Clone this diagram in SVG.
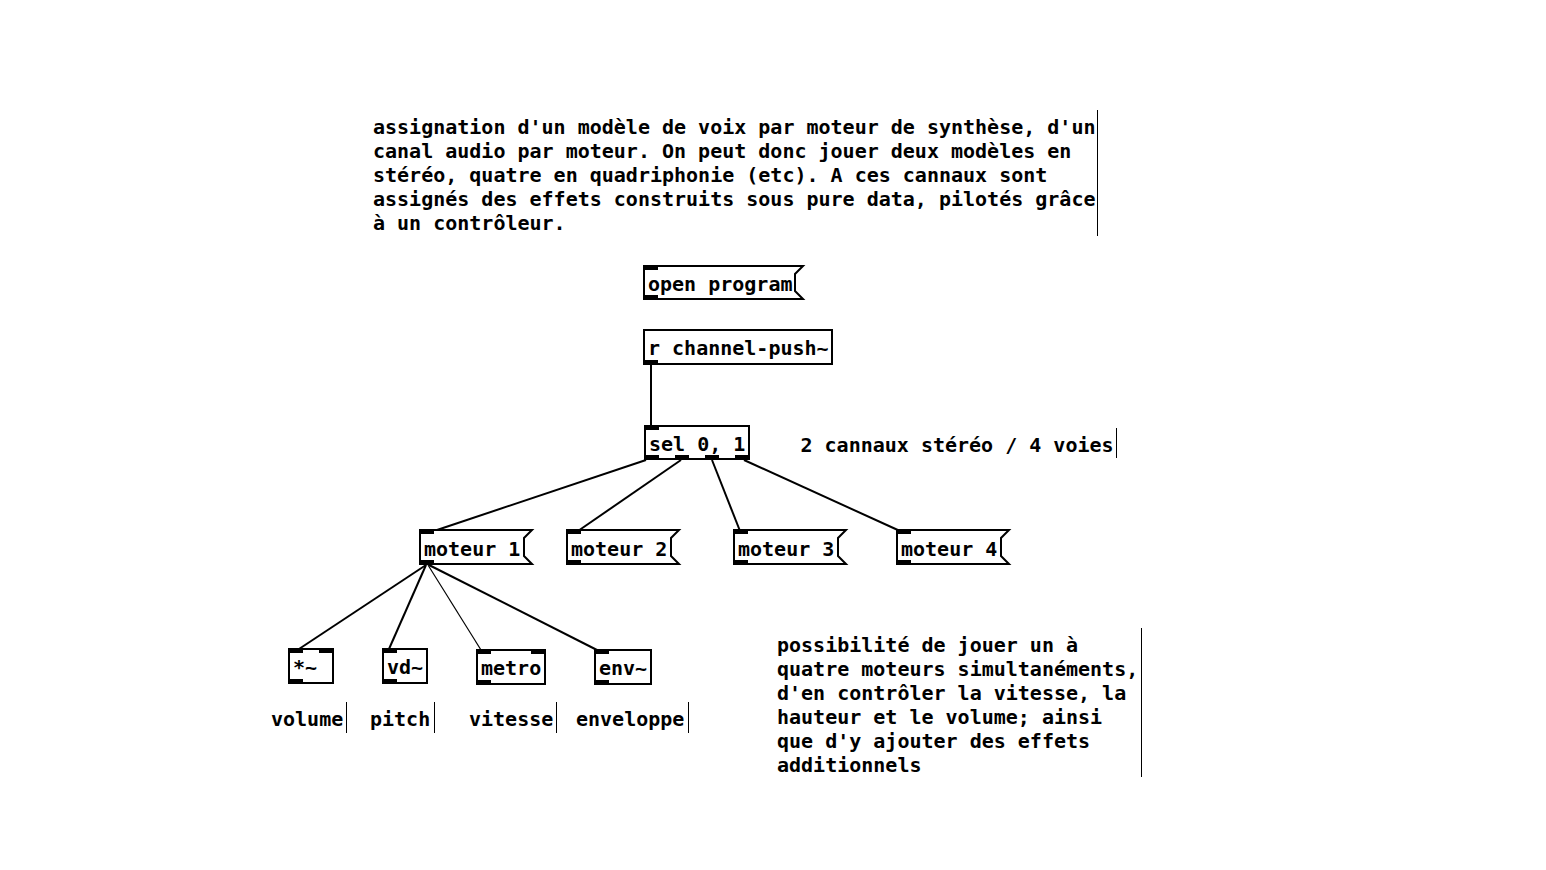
<svg xmlns="http://www.w3.org/2000/svg" width="1546" height="870" viewBox="0 0 1546 870">
<style>
text{font-family:"DejaVu Sans Mono","Liberation Mono",monospace;font-weight:bold;font-size:20px;fill:#000}
.box{fill:#fff;stroke:#000;stroke-width:2}
.io{fill:#000}
.wire{stroke:#000;stroke-width:2;fill:none}
.thin{stroke:#000;stroke-width:1.2;fill:none}
.bar{stroke:#000;stroke-width:1;fill:none}
</style>
<rect width="1546" height="870" fill="#fff"/>
<g id="connectors">
<line class="wire" x1="651" y1="364" x2="651" y2="427"/>
<line class="wire" x1="646" y1="460" x2="434" y2="531"/>
<line class="wire" x1="681" y1="460" x2="578" y2="531"/>
<line class="wire" x1="712" y1="460" x2="740" y2="531"/>
<line class="wire" x1="744" y1="460" x2="900" y2="531"/>
<line class="wire" x1="426" y1="565" x2="299" y2="649"/>
<line class="wire" x1="426" y1="565" x2="389" y2="649"/>
<line class="thin" x1="428" y1="565" x2="481" y2="650"/>
<line class="wire" x1="429" y1="565" x2="597" y2="650"/>
</g>
<g id="comment-top">
<text x="373" y="134">assignation d'un modèle de voix par moteur de synthèse, d'un</text>
<text x="373" y="158">canal audio par moteur. On peut donc jouer deux modèles en</text>
<text x="373" y="182">stéréo, quatre en quadriphonie (etc). A ces cannaux sont</text>
<text x="373" y="206">assignés des effets construits sous pure data, pilotés grâce</text>
<text x="373" y="230">à un contrôleur.</text>
<line class="bar" x1="1097.5" y1="110" x2="1097.5" y2="236"/>
</g>
<g id="msg-open-program">
<path class="box" d="M644,266 H803 L795,274 V291 L803,299 H644 Z"/>
<rect class="io" x="644" y="266" width="14" height="4"/>
<rect class="io" x="644" y="295" width="14" height="4"/>
<text x="648" y="291">open program</text>
</g>
<g id="obj-r-channel-push">
<rect class="box" x="644" y="330" width="188" height="34"/>
<rect class="io" x="644" y="360" width="14" height="4"/>
<text x="648" y="355">r channel-push~</text>
</g>
<g id="obj-sel">
<rect class="box" x="645" y="426" width="104" height="33"/>
<rect class="io" x="645" y="426" width="14" height="4"/>
<rect class="io" x="645" y="455" width="14" height="4"/>
<rect class="io" x="675" y="455" width="14" height="4"/>
<rect class="io" x="705" y="455" width="14" height="4"/>
<rect class="io" x="735" y="455" width="14" height="4"/>
<text x="649" y="451">sel 0, 1</text>
</g>
<g id="comment-stereo">
<text x="800.5" y="452">2 cannaux stéréo / 4 voies</text>
<line class="bar" x1="1116.5" y1="428" x2="1116.5" y2="458"/>
</g>
<g id="msg-moteur-1">
<path class="box" d="M420,530 H532 L524,538 V556 L532,564 H420 Z"/>
<rect class="io" x="420" y="530" width="14" height="4"/>
<rect class="io" x="420" y="560" width="14" height="4"/>
<text x="424" y="556">moteur 1</text>
</g>
<g id="msg-moteur-2">
<path class="box" d="M567,530 H679 L671,538 V556 L679,564 H567 Z"/>
<rect class="io" x="567" y="530" width="14" height="4"/>
<rect class="io" x="567" y="560" width="14" height="4"/>
<text x="571" y="556">moteur 2</text>
</g>
<g id="msg-moteur-3">
<path class="box" d="M734,530 H846 L838,538 V556 L846,564 H734 Z"/>
<rect class="io" x="734" y="530" width="14" height="4"/>
<rect class="io" x="734" y="560" width="14" height="4"/>
<text x="738" y="556">moteur 3</text>
</g>
<g id="msg-moteur-4">
<path class="box" d="M897,530 H1009 L1001,538 V556 L1009,564 H897 Z"/>
<rect class="io" x="897" y="530" width="14" height="4"/>
<rect class="io" x="897" y="560" width="14" height="4"/>
<text x="901" y="556">moteur 4</text>
</g>
<g id="obj-mul">
<rect class="box" x="289" y="649" width="44" height="34"/>
<rect class="io" x="289" y="649" width="14" height="4"/>
<rect class="io" x="319" y="649" width="14" height="4"/>
<rect class="io" x="289" y="679" width="14" height="4"/>
<text x="293" y="674">*~</text>
</g>
<g id="obj-vd">
<rect class="box" x="383" y="649" width="44" height="34"/>
<rect class="io" x="383" y="649" width="14" height="4"/>
<rect class="io" x="383" y="679" width="14" height="4"/>
<text x="387" y="674">vd~</text>
</g>
<g id="obj-metro">
<rect class="box" x="477" y="650" width="68" height="34"/>
<rect class="io" x="477" y="650" width="14" height="4"/>
<rect class="io" x="531" y="650" width="14" height="4"/>
<rect class="io" x="477" y="680" width="14" height="4"/>
<text x="481" y="675">metro</text>
</g>
<g id="obj-env">
<rect class="box" x="595" y="650" width="56" height="34"/>
<rect class="io" x="595" y="650" width="14" height="4"/>
<rect class="io" x="595" y="680" width="14" height="4"/>
<text x="599" y="675">env~</text>
</g>
<g id="labels">
<text x="271" y="726">volume</text>
<line class="bar" x1="346.5" y1="702" x2="346.5" y2="733"/>
<text x="370" y="726">pitch</text>
<line class="bar" x1="434.5" y1="702" x2="434.5" y2="733"/>
<text x="469" y="726">vitesse</text>
<line class="bar" x1="556.5" y1="702" x2="556.5" y2="733"/>
<text x="576" y="726">enveloppe</text>
<line class="bar" x1="688.5" y1="702" x2="688.5" y2="733"/>
</g>
<g id="comment-bottom">
<text x="777" y="652">possibilité de jouer un à</text>
<text x="777" y="676">quatre moteurs simultanéments,</text>
<text x="777" y="700">d'en contrôler la vitesse, la</text>
<text x="777" y="724">hauteur et le volume; ainsi</text>
<text x="777" y="748">que d'y ajouter des effets</text>
<text x="777" y="772">additionnels</text>
<line class="bar" x1="1141.5" y1="628" x2="1141.5" y2="777"/>
</g>
</svg>
